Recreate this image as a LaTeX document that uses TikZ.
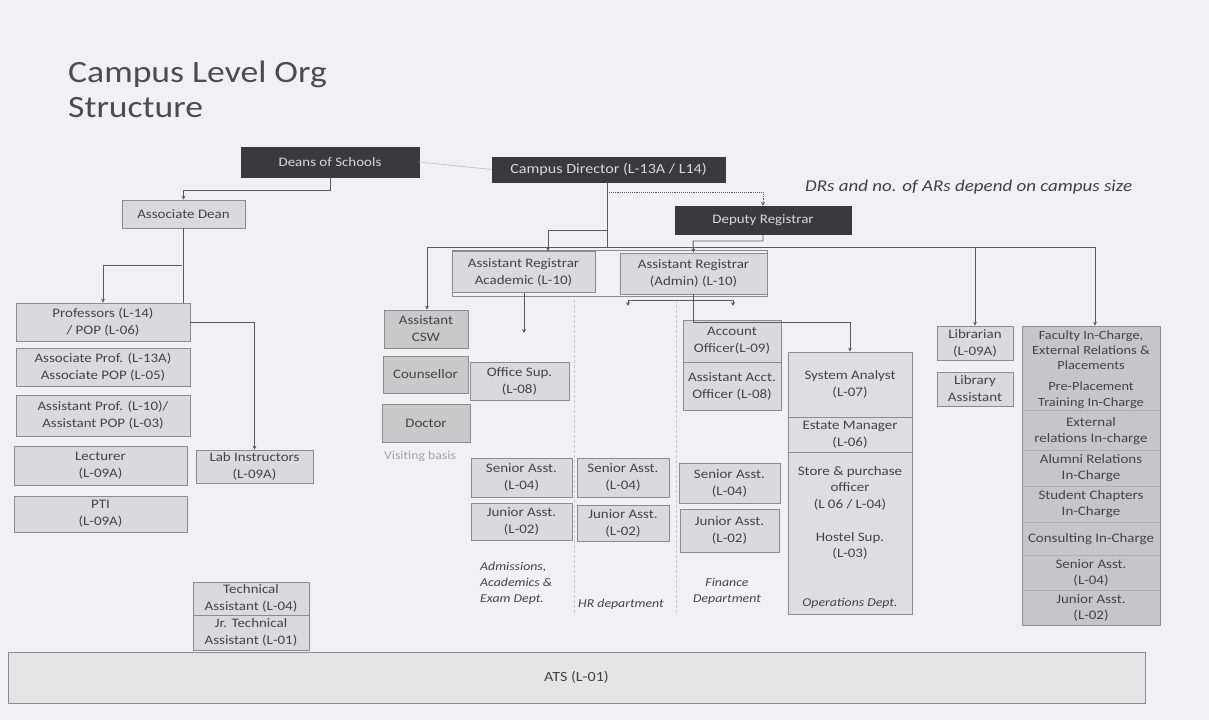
\documentclass[tikz,border=0pt]{standalone}
\usepackage{fontspec}
\setmainfont{Carlito}[FakeStretch=1.15]
\usetikzlibrary{arrows.meta}
\definecolor{bg}{HTML}{F1F1F3}
\definecolor{boxfill}{HTML}{DADADC}
\definecolor{boxline}{HTML}{8C8C8E}
\definecolor{darkbox}{HTML}{3A3A3C}
\definecolor{txt}{HTML}{444446}
\definecolor{facfill}{HTML}{C6C6C8}
\definecolor{opsfill}{HTML}{DEDEE1}
\definecolor{conn}{HTML}{5A5A5C}
\definecolor{faint}{HTML}{C8C8CC}
\begin{document}
\begin{tikzpicture}[x=1pt,y=-1pt,
  box/.style={draw=boxline, fill=boxfill, line width=0.7pt, text=txt, align=center, inner sep=1pt,
    font=\fontsize{13}{17}\selectfont},
  dark/.style={draw=darkbox, fill=darkbox, text=white!85!black, align=center, inner sep=1pt,
    font=\fontsize{13}{15}\selectfont},
  plain/.style={text=txt, align=center, inner sep=0pt, font=\fontsize{13}{16.5}\selectfont},
  dept/.style={text=txt, inner sep=0pt, font=\itshape\fontsize{12}{16}\selectfont},
  conline/.style={draw=conn, line width=0.9pt},
  arr/.style={conline, -{Stealth[length=4pt,width=4pt]}},
  divider/.style={draw=faint, line width=0.6pt, densely dashed}]
\path[fill=bg] (0,0) rectangle (1209,720);
\useasboundingbox (0,0) rectangle (1209,720);

% title and note
\node[anchor=north west, align=left, inner sep=0pt, text=black!70, font=\fontsize{31}{35}\selectfont] (title) at (68,61) {Campus Level Org\\Structure};
\node[anchor=west, inner sep=0pt, text=black!75, font=\itshape\fontsize{16.5}{18}\selectfont] (note) at (805,187) {DRs and no. of ARs depend on campus size};

% column dividers
\coordinate (d1a) at (574,300); \coordinate (d1b) at (574,615);
\coordinate (d2a) at (676,300); \coordinate (d2b) at (676,615);
\draw[divider] (d1a) -- (d1b);
\draw[divider] (d2a) -- (d2b);

% top dark boxes
\node[dark, minimum width=178pt, minimum height=30pt] (dean) at (330,162) {Deans of Schools};
\node[dark, minimum width=233pt, minimum height=25pt, font=\fontsize{14}{16}\selectfont] (cd) at (608.5,169.5) {Campus Director (L-13A / L14)};
\node[dark, minimum width=176pt, minimum height=28pt] (dr) at (763,220) {Deputy Registrar};
\draw[draw=faint, line width=0.8pt] (dean.east) -- (cd.west);

% left branch
\node[box, minimum width=123pt, minimum height=28pt] (adean) at (183.5,214) {Associate Dean};
\node[box, minimum width=174pt, minimum height=38pt] (prof) at (103,322) {Professors (L-14)\\/ POP (L-06)};
\node[box, minimum width=174pt, minimum height=38pt] (aprof) at (103,367) {Associate Prof. (L-13A)\\Associate POP (L-05)};
\node[box, minimum width=174pt, minimum height=41pt] (asprof) at (103,415.5) {Assistant Prof. (L-10)/\\Assistant POP (L-03)};
\node[box, minimum width=173pt, minimum height=39pt] (lect) at (100.5,465.5) {Lecturer\\(L-09A)};
\node[box, minimum width=173pt, minimum height=36pt] (pti) at (100.5,514) {PTI\\(L-09A)};
\node[box, minimum width=117pt, minimum height=33pt] (lab) at (254.5,466.5) {Lab Instructors\\(L-09A)};
\node[box, minimum width=116pt, minimum height=33pt] (tech1) at (251,598.5) {Technical\\Assistant (L-04)};
\node[box, minimum width=116pt, minimum height=35pt] (tech2) at (251,632.5) {Jr. Technical\\Assistant (L-01)};

\draw[arr] (dean.south) -- (330,190) -| (adean.north);
\draw[conline] (adean.south) -- (prof.north -| adean.south);
\coordinate (lj) at (182,265);
\draw[arr] (lj) -| (prof.north);
\draw[arr] (prof.east) -| (lab.north);

% ATS bar
\node[box, minimum width=1137pt, minimum height=51pt, fill=boxfill!70!white, font=\fontsize{14}{16}\selectfont] (ats) at (576.5,677.5) {ATS (L-01)};

% Assistant registrars
\node[draw=boxline, line width=0.7pt, minimum width=315pt, minimum height=46pt, inner sep=0pt] (arframe) at (609.5,273) {};
\node[box, minimum width=143pt, minimum height=41pt] (ara) at (523.5,272) {Assistant Registrar\\Academic (L-10)};
\node[box, minimum width=147pt, minimum height=41pt] (arb) at (693.5,273.5) {Assistant Registrar\\(Admin) (L-10)};

% bus from campus director
\coordinate (busj) at (607,247);
\coordinate (busl) at (427,247);
\coordinate (busr) at (1095,247);
\draw[conline] (cd.south -| busj) -- (busj);
\draw[conline] (busl) -- (busr);
\draw[arr] (607,230) -- (548,230) -- (ara.north -| 548,0);
\draw[arr, densely dotted] (607,192) -| (dr.north);
\draw[arr] (dr.south) -- (763,241) -- (693,241) -- (arb.north);

% wellness column
\node[box, minimum width=84pt, minimum height=38pt, fill=boxfill!92!black] (csw) at (426,329) {Assistant\\CSW};
\node[box, minimum width=85pt, minimum height=37pt, fill=boxfill!92!black] (couns) at (425.5,374.5) {Counsellor};
\node[box, minimum width=88pt, minimum height=38pt, fill=boxfill!92!black] (doctor) at (426,423) {Doctor};
\node[plain, text=black!35, font=\fontsize{12}{14}\selectfont] (visit) at (420,456) {Visiting basis};
\draw[arr] (busl) -- (csw.north -| busl);

% academic dept column
\node[box, minimum width=99pt, minimum height=38pt] (osup) at (519.5,381) {Office Sup.\\(L-08)};
\coordinate (araend) at (524,333);
\draw[arr] (ara.south -| araend) -- (araend);
\node[box, minimum width=101pt, minimum height=39pt] (sa1) at (521.5,477.5) {Senior Asst.\\(L-04)};
\node[box, minimum width=101pt, minimum height=37pt] (ja1) at (521.5,521.5) {Junior Asst.\\(L-02)};
\node[dept, anchor=north west, align=left] (dep1) at (480,562) {Admissions,\\Academics \&\\Exam Dept.};

% HR column
\node[box, minimum width=92pt, minimum height=39pt] (sa2) at (623,477.5) {Senior Asst.\\(L-04)};
\node[box, minimum width=92pt, minimum height=36pt] (ja2) at (623,523) {Junior Asst.\\(L-02)};
\node[dept, anchor=base] (dep2) at (621,607) {HR department};

% finance column
\node[box, minimum width=98pt, minimum height=42pt] (ao) at (732,341) {Account\\Officer(L-09)};
\node[box, minimum width=98pt, minimum height=48pt] (aao) at (732,386) {Assistant Acct.\\Officer (L-08)};
\node[box, minimum width=101pt, minimum height=40pt] (sa3) at (729.5,483) {Senior Asst.\\(L-04)};
\node[box, minimum width=99pt, minimum height=43pt] (ja3) at (729.5,530.5) {Junior Asst.\\(L-02)};
\node[dept, anchor=north, align=center] (dep3) at (727,578) {Finance\\Department};

% admin AR connectors
\coordinate (hl) at (628,306);
\coordinate (hr) at (733,306);
\draw[conline] (arb.south -| 693,0) -- (693,322);
\draw[arr, line width=0.7pt] (628,300) -- (hl);
\draw[arr, line width=0.7pt] (733,300) -- (hr);
\draw[conline, line width=0.7pt] (628,300) -- (733,300);

% operations column
\node[box, fill=opsfill, minimum width=124pt, minimum height=262pt] (ops) at (850,483) {};
\node[box, fill=opsfill, minimum width=124pt, minimum height=65pt] (sysan) at (850,384.5) {System Analyst\\(L-07)};
\node[box, fill=opsfill, minimum width=124pt, minimum height=35pt] (estate) at (850,434.5) {Estate Manager\\(L-06)};
\node[plain] (store) at (850,488) {Store \& purchase\\officer\\(L 06 / L-04)};
\node[plain] (hostel) at (850,546) {Hostel Sup.\\(L-03)};
\node[dept, anchor=base] (dep4) at (850,606) {Operations Dept.};
\draw[arr] (693,322) -| (sysan.north);

% library
\node[box, minimum width=76pt, minimum height=34pt] (lib) at (975,343) {Librarian\\(L-09A)};
\node[box, minimum width=76pt, minimum height=34pt] (libast) at (975,389) {Library\\Assistant};
\draw[arr] (busl -| lib.north) -- (lib.north);

% faculty in-charge column
\node[box, fill=facfill, minimum width=138pt, minimum height=299pt] (fac) at (1091,475.5) {};
\node[plain, font=\fontsize{12.5}{15}\selectfont] (fac1) at (1091,350) {Faculty In-Charge,\\External Relations \&\\Placements};
\node[plain, font=\fontsize{12.5}{15.5}\selectfont] (fac1b) at (1091,395) {Pre-Placement\\Training In-Charge};
\node[plain, font=\fontsize{13}{16}\selectfont] (fac2) at (1091,431) {External\\relations In-charge};
\node[plain, font=\fontsize{13}{16}\selectfont] (fac3) at (1091,468) {Alumni Relations\\In-Charge};
\node[plain, font=\fontsize{13}{16}\selectfont] (fac4) at (1091,504) {Student Chapters\\In-Charge};
\node[plain] (fac5) at (1091,539) {Consulting In-Charge};
\node[plain, font=\fontsize{13}{16}\selectfont] (fac6) at (1091,572.5) {Senior Asst.\\(L-04)};
\node[plain, font=\fontsize{13}{16}\selectfont] (fac7) at (1091,607.5) {Junior Asst.\\(L-02)};
\foreach \yy in {410,450,486,522,555,590}
  \draw[draw=boxline!70, line width=0.5pt] (fac.west |- 0,\yy) -- (fac.east |- 0,\yy);
\draw[arr] (busr) -- (fac.north -| busr);

\end{tikzpicture}
\end{document}
